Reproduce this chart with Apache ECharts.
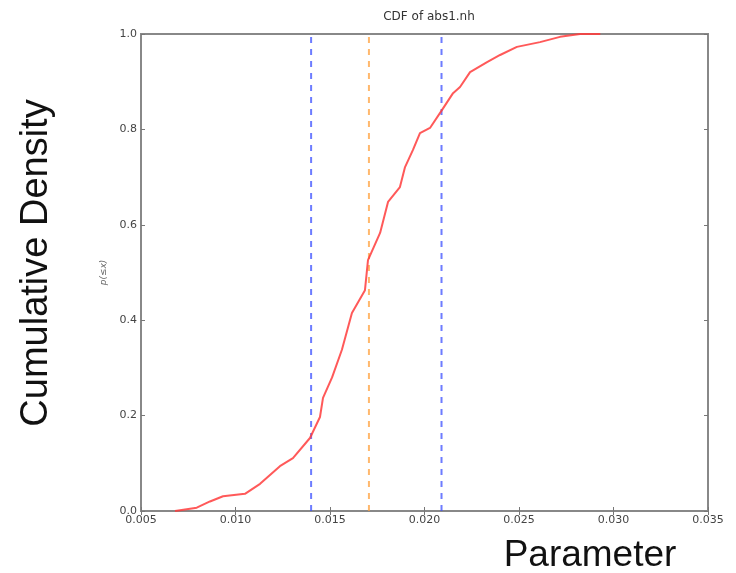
<!DOCTYPE html>
<html><head><meta charset="utf-8">
<script src="https://cdn.jsdelivr.net/npm/echarts@6/dist/echarts.min.js"></script>
<style>html,body{margin:0;padding:0;background:#fff}#c{width:736px;height:573px}</style>
</head><body><div id="c"></div>
<script>
const cdfX = [0.0068,0.00795,0.00865,0.00934,0.0105,0.0113,0.01235,0.01304,0.01394,0.01447,0.01463,0.01511,0.01563,0.01616,0.01685,0.01701,0.01765,0.01807,0.0187,0.01897,0.01939,0.01976,0.02029,0.02093,0.02151,0.02188,0.02241,0.02331,0.024,0.02489,0.02611,0.02717,0.02823,0.0293];
const cdfY = [0.0,0.007,0.02,0.031,0.036,0.057,0.094,0.111,0.153,0.197,0.237,0.28,0.338,0.415,0.463,0.526,0.583,0.648,0.679,0.721,0.757,0.792,0.803,0.841,0.876,0.889,0.920,0.941,0.956,0.973,0.983,0.994,1.0,1.0];
const blueLines = [0.0140, 0.0209];
const orangeLine = 0.01706;
const xTicks = ['0.005','0.010','0.015','0.020','0.025','0.030','0.035'];
const yTicks = ['0.0','0.2','0.4','0.6','0.8','1.0'];

const chart = echarts.init(document.getElementById('c'), null, {renderer:'canvas'});
const vline = (x, color) => ({
  type:'line', data:[[x,0],[x,1]], symbol:'none', silent:true,
  lineStyle:{color:color, width:2, type:[6,6]}
});
const fmtX = v => { const s = v.toFixed(3); return xTicks.indexOf(s) >= 0 ? s : ''; };
const fmtY = v => { const s = v.toFixed(1); return yTicks.indexOf(s) >= 0 ? s : ''; };
chart.setOption({
  animation:false,
  title:{text:'CDF of abs1.nh', left:424, top:6, textAlign:'center',
    textStyle:{fontFamily:'DejaVu Sans', fontSize:12, fontWeight:'normal', color:'#333'}},
  grid:{left:141, right:28, top:34, bottom:62, show:true, borderColor:'#888', borderWidth:2},
  xAxis:[{type:'value', min:0.005, max:0.035, interval:0.005, position:'bottom',
    axisLine:{show:false}, splitLine:{show:false},
    axisTick:{inside:true, length:4, lineStyle:{color:'#777'}},
    axisLabel:{formatter:fmtX, fontFamily:'DejaVu Sans', fontSize:11, color:'#444', margin:4}},
   {type:'value', min:0.005, max:0.035, interval:0.005, position:'top',
    axisLine:{show:false}, splitLine:{show:false},
    axisTick:{inside:true, length:4, lineStyle:{color:'#777'}}, axisLabel:{show:false}}],
  yAxis:[{type:'value', min:0, max:1, interval:0.2, position:'left',
    axisLine:{show:false}, splitLine:{show:false},
    axisTick:{inside:true, length:4, lineStyle:{color:'#777'}},
    axisLabel:{formatter:fmtY, fontFamily:'DejaVu Sans', fontSize:11, color:'#444', margin:4},
    name:'p(≤x)', nameLocation:'middle', nameGap:27,
    nameTextStyle:{fontFamily:'DejaVu Sans', fontSize:9, color:'#666', fontStyle:'italic'}},
   {type:'value', min:0, max:1, interval:0.2, position:'right',
    axisLine:{show:false}, splitLine:{show:false},
    axisTick:{inside:true, length:4, lineStyle:{color:'#777'}}, axisLabel:{show:false}}],
  graphic:[
    {type:'text', rotation:Math.PI/2, x:37, y:263, style:{text:'Cumulative Density', font:'38px "Liberation Sans"', fill:'#111', align:'center', verticalAlign:'middle'}},
    {type:'text', x:590, y:556, style:{text:'Parameter', font:'37px "Liberation Sans"', fill:'#111', align:'center', verticalAlign:'middle'}}
  ],
  series:[
    vline(blueLines[0], 'rgba(60,80,255,0.75)'),
    vline(orangeLine, 'rgba(255,160,60,0.75)'),
    vline(blueLines[1], 'rgba(60,80,255,0.75)'),
    {type:'line', data:cdfX.map((x,i)=>[x,cdfY[i]]), symbol:'none', smooth:false,
     lineStyle:{color:'rgba(255,60,60,0.85)', width:2}}
  ]
});
</script></body></html>
